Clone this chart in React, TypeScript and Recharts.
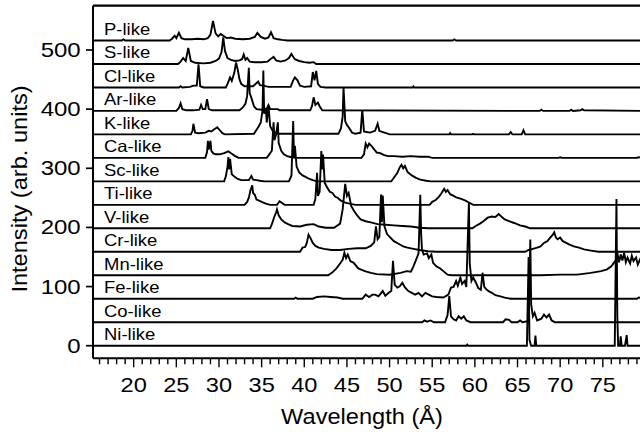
import React from 'react';
import { LineChart, Line, XAxis, YAxis, ReferenceLine, ReferenceDot } from 'recharts';

// band order, bottom to top
const ions = [
  'Ni-like', 'Co-like', 'Fe-like', 'Mn-like', 'Cr-like', 'V-like', 'Ti-like',
  'Sc-like', 'Ca-like', 'K-like', 'Ar-like', 'Cl-like', 'S-like', 'P-like',
];

const offsetStep = 39.7;
const yTicks = [0, 100, 200, 300, 400, 500];
const xTicks = Array.from({ length: 64 }, (_, i) => 16 + i);
const xLabelled = [20, 25, 30, 35, 40, 45, 50, 55, 60, 65, 70, 75];

// [wavelength (Å), intensity above own baseline]
const niLike: [number, number][] = [
  [15, 0], [59.0, 0], [59.1, 2], [59.2, 0], [66.1, 0], [66.3, 150], [66.4, 10], [66.6, 0],
  [67.0, 0], [67.1, 17], [67.2, 0], [76.4, 0], [76.6, 248], [76.7, 50], [76.8, 0], [77.0, 0],
  [77.1, 16], [77.2, 0], [77.6, 0], [77.8, 18], [77.9, 0], [80, 0],
];

const coLike: [number, number][] = [
  [15, 0], [53.8, 0], [54.1, 3], [54.4, 1], [54.8, 3], [55.2, 0], [56.5, 0], [56.8, 12],
  [57.0, 44], [57.2, 10], [57.5, 5], [57.8, 3], [58.1, 10], [58.4, 6], [58.7, 10], [59.0, 3],
  [59.5, 0], [63.3, 0], [63.6, 5], [64.0, 4], [64.3, 0], [65.0, 0], [65.3, 3], [65.6, 0],
  [66.3, 2], [66.5, 140], [66.6, 30], [66.8, 10], [67.0, 16], [67.3, 3], [67.8, 6], [68.1, 13],
  [68.4, 8], [68.7, 13], [69.0, 3], [69.4, 0], [80, 0],
];

const feLike: [number, number][] = [
  [15, 0], [38.8, 0], [39.0, 2], [39.2, 0], [41.0, 0], [41.5, 3], [42.3, 4], [43.1, 3],
  [43.9, 2], [44.5, 0], [46.8, 0], [47.2, 7], [47.6, 3], [48.0, 7], [48.3, 7], [48.7, 4],
  [49.2, 13], [49.5, 5], [49.9, 10], [50.2, 13], [50.4, 64], [50.6, 24], [50.9, 19], [51.2, 21],
  [51.5, 27], [51.8, 19], [52.2, 13], [52.6, 10], [53.0, 7], [53.4, 10], [53.8, 4], [54.2, 10],
  [54.6, 7], [55.0, 4], [55.5, 3], [56.3, 2], [56.9, 7], [57.2, 19], [57.5, 20], [57.8, 30],
  [58.0, 22], [58.3, 36], [58.5, 25], [58.8, 30], [59.0, 20], [59.3, 163], [59.4, 60], [59.6, 30],
  [59.8, 36], [60.1, 28], [60.4, 18], [60.7, 15], [60.9, 44], [61.1, 20], [61.4, 15], [61.7, 12],
  [62.0, 10], [62.4, 6], [63.0, 4], [63.5, 2], [64.2, 0], [79.0, 0], [79.2, 2], [80, 0],
];

const mnLike: [number, number][] = [
  [15, 0], [42.8, 0], [43.3, 5], [43.8, 12], [44.2, 20], [44.5, 26], [44.7, 38], [44.9, 29],
  [45.1, 35], [45.4, 24], [45.8, 21], [46.3, 12], [46.6, 10], [47.1, 7], [47.8, 4], [48.5, 2],
  [50.0, 1], [51.3, 4], [52.0, 7], [52.5, 6], [52.8, 15], [53.1, 26], [53.4, 37], [53.6, 136],
  [53.7, 70], [53.8, 43], [54.0, 35], [54.4, 37], [54.6, 29], [54.9, 35], [55.1, 21], [55.5, 15],
  [55.9, 12], [56.3, 7], [56.8, 1], [57.3, 0], [67.7, 0], [70.0, 1], [72.0, 1], [73.6, 4],
  [74.8, 7], [75.5, 10], [76.0, 15], [76.3, 21], [76.5, 25], [76.7, 38], [76.9, 22], [77.1, 35],
  [77.3, 25], [77.5, 38], [77.7, 22], [77.9, 30], [78.2, 20], [78.4, 33], [78.6, 24], [78.9, 30],
  [79.1, 18], [79.4, 28], [80, 25],
];

const crLike: [number, number][] = [
  [15, 0], [39.5, 0], [39.8, 7], [40.1, 8], [40.3, 15], [40.5, 29], [40.7, 24], [41.0, 15],
  [41.3, 10], [41.7, 7], [42.3, 5], [43.2, 3], [44.2, 3], [45.2, 5], [46.2, 6], [47.2, 6],
  [47.8, 10], [48.2, 16], [48.4, 43], [48.6, 21], [48.8, 25], [49.0, 97], [49.1, 50], [49.2, 95],
  [49.4, 43], [49.7, 30], [50.1, 24], [50.5, 18], [51.0, 14], [51.6, 9], [52.1, 7], [52.8, 5],
  [53.5, 3], [54.5, 1], [55.5, 0], [65.9, 0], [66.3, 3], [66.8, 5], [67.3, 7], [67.7, 9],
  [68.1, 15], [68.5, 18], [68.9, 25], [69.1, 28], [69.3, 33], [69.5, 24], [69.7, 21], [70.0, 24],
  [70.3, 18], [70.7, 15], [71.1, 12], [71.6, 9], [72.2, 7], [72.8, 4], [73.6, 2], [74.5, 0],
  [80, 0],
];

const vLike: [number, number][] = [
  [15, 0], [36.0, 0], [36.2, 7], [36.5, 20], [36.7, 27], [36.8, 32], [37.0, 22], [37.3, 15],
  [37.7, 10], [38.1, 7], [38.6, 4], [39.5, 3], [40.3, 6], [41.1, 7], [41.7, 3], [42.5, 1],
  [43.5, 1], [44.2, 8], [44.5, 32], [44.8, 75], [45.0, 55], [45.2, 60], [45.5, 38], [45.8, 30],
  [46.2, 22], [46.6, 15], [47.2, 12], [47.8, 10], [48.6, 7], [49.5, 6], [50.5, 5], [51.5, 4],
  [52.5, 3], [53.5, 1], [54.5, 0], [59.7, 0], [60.1, 4], [60.6, 8], [61.0, 12], [61.5, 18],
  [62.0, 20], [62.4, 19], [62.8, 24], [63.1, 20], [63.5, 15], [64.0, 12], [64.6, 9], [65.3, 5],
  [65.9, 3], [66.5, 0], [80, 0],
];

const tiLike: [number, number][] = [
  [15, 0], [33.0, 0], [33.3, 5], [33.5, 12], [33.7, 25], [33.9, 33], [34.0, 20], [34.2, 17],
  [34.4, 9], [34.7, 7], [35.0, 5], [35.5, 2], [36.0, 0], [36.8, 0], [37.1, 6], [37.4, 3],
  [37.7, 0], [41.1, 0], [41.3, 10], [41.5, 54], [41.6, 15], [41.8, 22], [42.0, 91], [42.1, 60],
  [42.2, 85], [42.4, 37], [42.7, 29], [43.0, 22], [43.3, 20], [43.6, 14], [43.9, 12], [44.3, 7],
  [44.7, 4], [45.3, 2], [46.0, 0], [54.7, 0], [55.0, 5], [55.4, 8], [55.8, 14], [56.1, 20],
  [56.4, 27], [56.6, 22], [56.8, 25], [57.1, 18], [57.5, 15], [57.9, 12], [58.4, 10], [58.9, 7],
  [59.3, 4], [59.8, 0], [80, 0],
];

const scLike: [number, number][] = [
  [15, 0], [30.6, 0], [30.8, 8], [31.0, 25], [31.1, 41], [31.2, 20], [31.3, 38], [31.5, 12],
  [31.8, 8], [32.2, 4], [32.6, 2], [33.5, 2], [33.8, 9], [34.0, 3], [34.4, 2], [34.8, 1],
  [35.3, 0], [38.2, 0], [38.5, 10], [38.7, 102], [38.8, 40], [38.9, 60], [39.1, 25], [39.4, 15],
  [39.8, 10], [40.2, 7], [40.6, 4], [41.0, 2], [41.5, 0], [50.2, 0], [50.5, 6], [50.9, 14],
  [51.2, 24], [51.4, 28], [51.6, 22], [51.8, 26], [52.1, 16], [52.6, 10], [53.1, 6], [53.6, 3],
  [54.3, 1], [54.8, 0], [80, 0],
];

const caLike: [number, number][] = [
  [15, 0], [28.4, 0], [28.6, 10], [28.7, 29], [28.8, 14], [29.0, 29], [29.1, 12], [29.3, 8],
  [29.6, 6], [30.1, 6], [30.6, 8], [31.1, 11], [31.5, 7], [31.9, 3], [32.3, 0], [35.6, 0],
  [35.9, 6], [36.2, 12], [36.4, 60], [36.5, 30], [36.7, 40], [36.9, 60], [37.0, 25], [37.3, 12],
  [37.6, 6], [38.0, 3], [38.5, 1], [39.0, 0], [46.7, 0], [47.0, 6], [47.2, 24], [47.4, 18],
  [47.6, 24], [47.9, 20], [48.1, 16], [48.5, 9], [48.9, 8], [49.3, 5], [49.8, 3], [50.5, 3],
  [51.5, 2], [52.5, 3], [53.5, 2], [54.5, 2], [55.0, 0], [69.8, 0], [70.0, 1], [70.2, 0],
  [79.0, 0], [79.2, 1], [80, 0],
];

const kLike: [number, number][] = [
  [15, 0], [26.7, 0], [26.9, 6], [27.0, 18], [27.2, 3], [27.6, 2], [28.4, 3], [28.8, 6],
  [29.1, 5], [29.5, 9], [29.8, 12], [30.1, 7], [30.4, 2], [30.7, 0], [34.1, 1], [34.4, 8],
  [34.6, 12], [34.9, 20], [35.1, 40], [35.2, 108], [35.3, 35], [35.5, 44], [35.6, 20], [35.8, 49],
  [36.0, 14], [36.3, 6], [36.6, 3], [37.0, 1], [44.0, 1], [44.3, 10], [44.5, 30], [44.6, 80],
  [44.8, 22], [45.0, 16], [45.3, 10], [45.6, 3], [46.0, 1], [46.6, 3], [46.8, 41], [47.0, 5],
  [47.3, 4], [47.7, 3], [48.3, 6], [48.6, 18], [48.8, 6], [49.2, 4], [49.6, 2], [50.0, 0],
  [57.0, 0], [57.1, 2], [57.2, 0], [59.7, 0], [59.8, 1], [59.9, 0], [64.0, 0], [64.2, 4],
  [64.4, 0], [65.5, 0], [65.7, 7], [65.9, 0], [80, 0],
];

const arLike: [number, number][] = [
  [15, 0], [25.0, 0], [25.3, 5], [25.5, 13], [25.7, 3], [26.2, 1], [27.0, 1], [27.7, 2],
  [27.9, 10], [28.1, 3], [28.4, 3], [28.6, 20], [28.8, 3], [29.2, 1], [32.4, 1], [32.8, 6],
  [33.1, 12], [33.3, 25], [33.5, 73], [33.6, 30], [33.8, 22], [34.1, 8], [34.4, 3], [35.0, 2],
  [35.6, 4], [35.8, 10], [36.0, 3], [36.9, 3], [37.1, 1], [40.7, 1], [40.9, 8], [41.1, 23],
  [41.3, 10], [41.6, 14], [41.8, 8], [42.1, 1], [67.6, 0], [67.8, 2], [68.0, 0], [71.1, 0],
  [71.3, 2], [71.5, 0], [72.4, 1], [72.6, 3], [72.8, 1], [80, 0],
];

const clLike: [number, number][] = [
  [15, 0], [25.3, 0], [25.5, 2], [25.7, 0], [26.6, 1], [27.0, 3], [27.4, 3], [27.6, 39],
  [27.8, 2], [28.2, 0], [30.8, 0], [31.0, 6], [31.3, 17], [31.5, 11], [31.8, 25], [32.0, 42],
  [32.2, 30], [32.4, 14], [32.6, 6], [33.0, 2], [34.0, 2], [34.6, 10], [34.8, 4], [35.2, 3],
  [35.8, 1], [38.4, 1], [38.7, 12], [38.9, 17], [39.2, 12], [39.5, 3], [40.0, 1], [40.8, 2],
  [41.0, 26], [41.2, 12], [41.4, 28], [41.6, 6], [41.9, 1], [42.5, 0], [52.7, 0], [52.8, 2],
  [52.9, 0], [80, 0],
];

const sLike: [number, number][] = [
  [15, 0], [25.2, 0], [25.5, 4], [25.8, 10], [26.1, 5], [26.4, 27], [26.7, 5], [27.2, 2],
  [28.2, 1], [29.0, 2], [29.6, 5], [30.0, 9], [30.3, 20], [30.5, 45], [30.7, 22], [31.0, 10],
  [31.4, 7], [31.9, 5], [32.4, 6], [32.7, 8], [32.9, 16], [33.1, 7], [33.3, 10], [33.6, 4],
  [34.2, 3], [35.0, 3], [35.7, 4], [36.1, 9], [36.4, 12], [36.7, 6], [37.2, 4], [37.8, 6],
  [38.2, 10], [38.5, 17], [38.7, 12], [38.9, 8], [39.4, 5], [40.0, 3], [40.6, 2], [41.1, 3],
  [41.4, 0], [80, 0],
];

const pLike: [number, number][] = [
  [15, 0], [18.6, 0], [18.8, 2], [19.0, 0], [24.2, 0], [24.5, 3], [24.8, 8], [25.0, 4],
  [25.3, 13], [25.6, 4], [26.0, 2], [26.8, 2], [27.5, 3], [28.2, 2], [28.7, 4], [29.0, 10],
  [29.3, 33], [29.6, 12], [29.9, 7], [30.2, 11], [30.5, 8], [30.9, 4], [31.4, 5], [31.9, 3],
  [32.8, 2], [33.6, 3], [34.2, 6], [34.5, 13], [34.9, 6], [35.4, 3], [35.8, 5], [36.1, 14],
  [36.4, 4], [36.9, 2], [37.4, 1], [38.0, 0], [57.4, 0], [57.6, 2], [57.8, 0], [80, 0],
];

const spectra = [
  niLike, coLike, feLike, mnLike, crLike, vLike, tiLike,
  scLike, caLike, kLike, arLike, clLike, sLike, pLike,
];

const series = spectra.map((pts, i) =>
  pts.map(([x, v]) => ({ x, y: v + i * offsetStep }))
);

const font = '"Liberation Sans", Arial, Helvetica, sans-serif';

const XTick = (props: any) => {
  const { x, y, payload } = props;
  const v = payload.value;
  const major = v % 5 === 0;
  return (
    <g>
      <line x1={x} x2={x} y1={y} y2={y + (major ? 9 : 6)} stroke="#000" strokeWidth={1.4} />
      {major && xLabelled.includes(v) && (
        <text
          transform={`translate(${x},${y + 33.4}) scale(1.18,1)`}
          textAnchor="middle"
          fontFamily={font}
          fontSize={20}
          fill="#000"
        >
          {v}
        </text>
      )}
    </g>
  );
};

const YTick = (props: any) => {
  const { x, y, payload } = props;
  return (
    <g>
      <line x1={x - 7} x2={x} y1={y} y2={y} stroke="#000" strokeWidth={1.7} />
      <text
        transform={`translate(${x - 12.3},${y + 7}) scale(1.2,1)`}
        textAnchor="end"
        fontFamily={font}
        fontSize={20}
        fill="#000"
      >
        {payload.value}
      </text>
    </g>
  );
};

export default function App() {
  return (
    <div style={{ position: 'absolute', left: 0, top: 0, width: 640, height: 434, background: '#fff' }}>
      <LineChart width={640} height={434} margin={{ top: 5.7, right: 0, bottom: 45.7, left: 33 }}>
        <XAxis
          type="number"
          dataKey="x"
          domain={[15.23, 79.36]}
          allowDataOverflow
          ticks={xTicks}
          interval={0}
          tickSize={0}
          tickMargin={0}
          tickLine={false}
          tick={<XTick />}
          axisLine={{ stroke: '#000', strokeWidth: 2 }}
          height={30}
        />
        <YAxis
          type="number"
          domain={[-21.3, 574.9]}
          allowDataOverflow
          ticks={yTicks}
          interval={0}
          tickSize={0}
          tickMargin={0}
          tickLine={false}
          tick={<YTick />}
          axisLine={{ stroke: '#000', strokeWidth: 2 }}
          width={60}
        />
        <ReferenceLine y={574.9} stroke="#000" strokeWidth={2.2} />
        {series.map((data, i) => (
          <Line
            key={ions[i]}
            data={data}
            dataKey="y"
            type="linear"
            stroke="#000"
            strokeWidth={1.9}
            dot={false}
            activeDot={false}
            isAnimationActive={false}
          />
        ))}
        {ions.map((name, i) => (
          <ReferenceDot
            key={name}
            x={16.52}
            y={i * offsetStep}
            shape={(p: any) => (
              <text
                transform={`translate(${p.cx},${p.cy - 5.5}) scale(1.12,1)`}
                fontFamily={font}
                fontSize={16.5}
                fill="#000"
              >
                {name}
              </text>
            )}
          />
        ))}
      </LineChart>
      <svg
        width={640}
        height={434}
        style={{ position: 'absolute', left: 0, top: 0, pointerEvents: 'none' }}
      >
        <text
          transform="translate(27,189) rotate(-90) scale(1.05,1)"
          textAnchor="middle"
          fontFamily={font}
          fontSize={22.5}
          fill="#000"
        >
          Intensity (arb. units)
        </text>
        <text
          transform="translate(362,424) scale(1.05,1)"
          textAnchor="middle"
          fontFamily={font}
          fontSize={22.5}
          fill="#000"
        >
          Wavelength (Å)
        </text>
      </svg>
    </div>
  );
}
